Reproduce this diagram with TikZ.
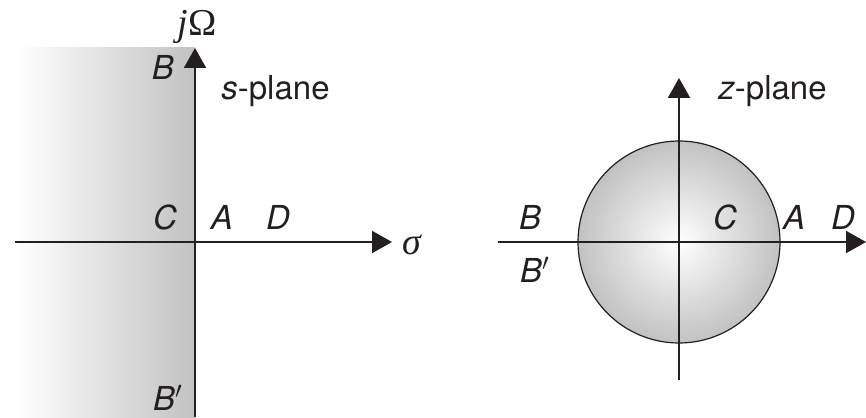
\documentclass[tikz,border=0pt]{standalone}
\usepackage{fontspec}
\setmainfont{TeX Gyre Heros}
\newfontfamily\SymFont{Liberation Serif}
\usetikzlibrary{arrows.meta,positioning}
\definecolor{DInk}{HTML}{231F20}
\definecolor{LShade}{gray}{0.76}
\newcommand{\LblSize}{\fontsize{16.5}{19}\selectfont}
\tikzset{
    axis/.style={DInk, line width=1pt, -{Triangle[length=10pt, width=11pt]}},
    lbl/.style={text=DInk, font=\LblSize\itshape, inner sep=0pt},
    sym/.style={text=DInk, font=\SymFont\fontsize{19}{21}\selectfont, inner sep=0pt},
    plane/.style={text=DInk, font=\LblSize, inner sep=0pt, anchor=base west},
}
\newcommand{\Canvas}{
\useasboundingbox (0,0) rectangle (866,417);

\begin{scope}[shift={(195,242)}, name prefix=S-]
    \coordinate (center) at (0,0);
    \coordinate (west) at (-180,0);
    \coordinate (east) at (197,0);
    \coordinate (north) at (0,-194);
    \coordinate (south) at (0,175);
    \coordinate (corner) at (-177,-194);
\end{scope}

\begin{scope}[shift={(679,242)}, name prefix=Z-]
    \coordinate (center) at (0,0);
    \coordinate (west) at (-181,0);
    \coordinate (east) at (187,0);
    \coordinate (north) at (0,-164);
    \coordinate (south) at (0,138);
\end{scope}
}

\begin{document}
\begin{tikzpicture}[x=0.5pt, y=-0.5pt]
\Canvas
% s-plane
\shade[left color=white, right color=LShade] (S-corner) rectangle (S-south);
\draw[axis] (S-west) -- (S-east);
\draw[axis] (S-south) -- (S-north);
\node[sym] (jomega) at (197,27) {\textit{j}Ω};
\node[sym] (sigma) at (412,245) {\textit{σ}};
\node[plane] (splane) at (221,99) {{\itshape s}-plane};
\node[lbl] (sB) at (163,67) {B};
\node[lbl] (sC) at (165,217) {C};
\node[lbl] (sA) at (222,217) {A};
\node[lbl] (sD) at (278,217) {D};
\node[lbl] (sBp) at (168,398) {B$'$};

% z-plane
\node[circle, draw=DInk, line width=0.6pt, minimum size=101pt, inner sep=0pt,
      inner color=white, outer color=LShade] (unit) at (Z-center) {};
\draw[axis] (Z-west) -- (Z-east);
\draw[axis] (Z-south) -- (Z-north);
\node[plane] (zplane) at (718,99) {{\itshape z}-plane};
\node[lbl] (zB) at (530,217) {B};
\node[lbl] (zBp) at (535,270) {B$'$};
\node[lbl] (zC) at (725,217) {C};
\node[lbl] (zA) at (794,217) {A};
\node[lbl] (zD) at (843,217) {D};
\end{tikzpicture}
\end{document}
